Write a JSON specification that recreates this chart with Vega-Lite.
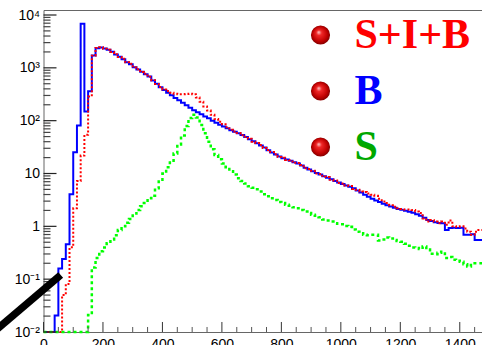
{
  "$schema": "https://vega.github.io/schema/vega-lite/v6.json",
  "width": 446,
  "height": 322,
  "autosize": {"type": "none"},
  "padding": {"left": 43.5, "top": 10, "right": 0, "bottom": 13},
  "background": "white",
  "config": {"view": {"stroke": "#666", "strokeWidth": 1}},
  "datasets": {
    "hist": [
    {"x":0,"b":0.01,"sib":0.01,"s":0.01},
    {"x":12.5,"b":0.01,"sib":0.01,"s":0.01},
    {"x":25,"b":0.01,"sib":0.01,"s":0.01},
    {"x":37.5,"b":0.0205,"sib":0.01,"s":0.01},
    {"x":50,"b":0.16,"sib":0.01,"s":0.01},
    {"x":62.5,"b":0.24,"sib":0.05,"s":0.01},
    {"x":75,"b":0.46,"sib":0.081,"s":0.01},
    {"x":87.5,"b":4.05,"sib":0.40,"s":0.01},
    {"x":100,"b":25.3,"sib":2.2,"s":0.01},
    {"x":112.5,"b":80.7,"sib":7.2,"s":0.01},
    {"x":125,"b":6800,"sib":21.8,"s":0.01},
    {"x":137.5,"b":149,"sib":54,"s":0.01},
    {"x":150,"b":361,"sib":286,"s":0.0209},
    {"x":162.5,"b":1710,"sib":1690,"s":0.166},
    {"x":175,"b":2360,"sib":2380,"s":0.251},
    {"x":187.5,"b":2430,"sib":2450,"s":0.339},
    {"x":200,"b":2320,"sib":2300,"s":0.398},
    {"x":212.5,"b":2190,"sib":2210,"s":0.479},
    {"x":225,"b":2010,"sib":1990,"s":0.562},
    {"x":237.5,"b":1790,"sib":1810,"s":0.676},
    {"x":250,"b":1615,"sib":1600,"s":0.851},
    {"x":262.5,"b":1460,"sib":1480,"s":1.0},
    {"x":275,"b":1280,"sib":1270,"s":1.175},
    {"x":287.5,"b":1175,"sib":1190,"s":1.38},
    {"x":300,"b":1030,"sib":1020,"s":1.74},
    {"x":312.5,"b":930,"sib":945,"s":2.04},
    {"x":325,"b":840,"sib":830,"s":2.40},
    {"x":337.5,"b":760,"sib":770,"s":2.75},
    {"x":350,"b":685,"sib":675,"s":3.39},
    {"x":362.5,"b":575,"sib":585,"s":3.80},
    {"x":375,"b":501,"sib":495,"s":5.25},
    {"x":387.5,"b":427,"sib":435,"s":7.08},
    {"x":400,"b":380,"sib":389,"s":10.0},
    {"x":412.5,"b":339,"sib":363,"s":13.2},
    {"x":425,"b":302,"sib":339,"s":17.4},
    {"x":437.5,"b":269,"sib":324,"s":24.0},
    {"x":450,"b":243,"sib":316,"s":35.5},
    {"x":462.5,"b":219,"sib":316,"s":52.5},
    {"x":475,"b":195,"sib":320,"s":79.4},
    {"x":487.5,"b":176,"sib":324,"s":112},
    {"x":500,"b":158,"sib":316,"s":129},
    {"x":512.5,"b":145,"sib":275,"s":115},
    {"x":525,"b":132,"sib":229,"s":83.2},
    {"x":537.5,"b":120,"sib":186,"s":57.5},
    {"x":550,"b":111,"sib":155,"s":39.8},
    {"x":562.5,"b":100,"sib":129,"s":28.8},
    {"x":575,"b":91.2,"sib":107,"s":22.4},
    {"x":587.5,"b":84.1,"sib":95.5,"s":18.6},
    {"x":600,"b":77.6,"sib":85.1,"s":15.5},
    {"x":612.5,"b":71.6,"sib":75,"s":13.2},
    {"x":625,"b":66.1,"sib":67.6,"s":11.0},
    {"x":637.5,"b":61.7,"sib":62.5,"s":9.55},
    {"x":650,"b":57.5,"sib":58.5,"s":8.13},
    {"x":662.5,"b":53.7,"sib":53.0,"s":7.24},
    {"x":675,"b":49.0,"sib":49.8,"s":6.46},
    {"x":687.5,"b":44.7,"sib":45.5,"s":5.75},
    {"x":700,"b":40.7,"sib":40.0,"s":5.37},
    {"x":712.5,"b":37.2,"sib":37.8,"s":5.01},
    {"x":725,"b":33.9,"sib":34.5,"s":4.57},
    {"x":737.5,"b":30.9,"sib":30.5,"s":4.07},
    {"x":750,"b":27.5,"sib":28.0,"s":3.72},
    {"x":762.5,"b":25.1,"sib":25.6,"s":3.39},
    {"x":775,"b":22.9,"sib":23.2,"s":3.16},
    {"x":787.5,"b":20.9,"sib":20.5,"s":2.88},
    {"x":800,"b":19.5,"sib":19.9,"s":2.75},
    {"x":812.5,"b":18.4,"sib":18.0,"s":2.57},
    {"x":825,"b":17.4,"sib":17.8,"s":2.45},
    {"x":837.5,"b":16.4,"sib":16.0,"s":2.29},
    {"x":850,"b":15.5,"sib":15.8,"s":2.19},
    {"x":862.5,"b":14.1,"sib":14.5,"s":2.04},
    {"x":875,"b":12.9,"sib":12.6,"s":1.91},
    {"x":887.5,"b":11.9,"sib":12.2,"s":1.78},
    {"x":900,"b":11.0,"sib":11.3,"s":1.66},
    {"x":912.5,"b":10.2,"sib":10.0,"s":1.58},
    {"x":925,"b":9.55,"sib":9.8,"s":1.48},
    {"x":937.5,"b":8.91,"sib":8.7,"s":1.35},
    {"x":950,"b":8.32,"sib":8.6,"s":1.29},
    {"x":962.5,"b":7.76,"sib":7.6,"s":1.23},
    {"x":975,"b":7.24,"sib":7.4,"s":1.15},
    {"x":987.5,"b":6.76,"sib":6.6,"s":1.12},
    {"x":1000,"b":6.31,"sib":6.5,"s":1.10},
    {"x":1012.5,"b":5.96,"sib":5.9,"s":1.02},
    {"x":1025,"b":5.62,"sib":5.8,"s":0.977},
    {"x":1037.5,"b":5.25,"sib":5.1,"s":0.871},
    {"x":1050,"b":4.79,"sib":4.9,"s":0.794},
    {"x":1062.5,"b":4.37,"sib":4.57,"s":0.741},
    {"x":1075,"b":3.98,"sib":4.47,"s":0.692},
    {"x":1087.5,"b":3.63,"sib":4.17,"s":0.676},
    {"x":1100,"b":3.31,"sib":3.98,"s":0.692},
    {"x":1112.5,"b":3.09,"sib":3.80,"s":0.692},
    {"x":1125,"b":2.88,"sib":3.31,"s":0.537},
    {"x":1137.5,"b":2.69,"sib":2.95,"s":0.562},
    {"x":1150,"b":2.51,"sib":2.75,"s":0.617},
    {"x":1162.5,"b":2.37,"sib":2.51,"s":0.589},
    {"x":1175,"b":2.24,"sib":2.34,"s":0.550},
    {"x":1187.5,"b":2.14,"sib":2.19,"s":0.525},
    {"x":1200,"b":2.07,"sib":2.14,"s":0.513},
    {"x":1212.5,"b":1.97,"sib":2.09,"s":0.468},
    {"x":1225,"b":1.88,"sib":2.09,"s":0.427},
    {"x":1237.5,"b":1.80,"sib":2.04,"s":0.398},
    {"x":1250,"b":1.70,"sib":1.91,"s":0.389},
    {"x":1262.5,"b":1.58,"sib":1.78,"s":0.372},
    {"x":1275,"b":1.45,"sib":1.41,"s":0.417},
    {"x":1287.5,"b":1.32,"sib":1.23,"s":0.363},
    {"x":1300,"b":1.26,"sib":1.32,"s":0.302},
    {"x":1312.5,"b":1.20,"sib":1.23,"s":0.295},
    {"x":1325,"b":1.16,"sib":1.15,"s":0.316},
    {"x":1337.5,"b":1.14,"sib":1.23,"s":0.331},
    {"x":1350,"b":0.851,"sib":1.07,"s":0.251},
    {"x":1362.5,"b":0.933,"sib":1.29,"s":0.263},
    {"x":1375,"b":0.944,"sib":1.0,"s":0.234},
    {"x":1387.5,"b":0.933,"sib":0.977,"s":0.224},
    {"x":1400,"b":0.944,"sib":1.0,"s":0.214},
    {"x":1412.5,"b":0.692,"sib":0.912,"s":0.191},
    {"x":1425,"b":0.692,"sib":0.794,"s":0.174},
    {"x":1437.5,"b":0.708,"sib":0.692,"s":0.200},
    {"x":1450,"b":0.550,"sib":0.794,"s":0.200},
    {"x":1462.5,"b":0.550,"sib":0.851,"s":0.200},
    {"x":1475,"b":0.550,"sib":0.851,"s":0.200}
    ],
    "yMajor": [{"v":0.01},{"v":0.1},{"v":1},{"v":10},{"v":100},{"v":1000},{"v":10000}],
    "yMinor": [{"v":0.02},{"v":0.03},{"v":0.04},{"v":0.05},{"v":0.06},{"v":0.07},{"v":0.08},{"v":0.09},{"v":0.2},{"v":0.3},{"v":0.4},{"v":0.5},{"v":0.6},{"v":0.7},{"v":0.8},{"v":0.9},{"v":2},{"v":3},{"v":4},{"v":5},{"v":6},{"v":7},{"v":8},{"v":9},{"v":20},{"v":30},{"v":40},{"v":50},{"v":60},{"v":70},{"v":80},{"v":90},{"v":200},{"v":300},{"v":400},{"v":500},{"v":600},{"v":700},{"v":800},{"v":900},{"v":2000},{"v":3000},{"v":4000},{"v":5000},{"v":6000},{"v":7000},{"v":8000},{"v":9000}],
    "xMajor": [{"t":0},{"t":200},{"t":400},{"t":600},{"t":800},{"t":1000},{"t":1200},{"t":1400}],
    "xMinor": [{"t":50},{"t":100},{"t":150},{"t":250},{"t":300},{"t":350},{"t":450},{"t":500},{"t":550},{"t":650},{"t":700},{"t":750},{"t":850},{"t":900},{"t":950},{"t":1050},{"t":1100},{"t":1150},{"t":1250},{"t":1300},{"t":1350},{"t":1450}],
    "bar": [{"x": -180, "y": 0.0087}, {"x": 57.8, "y": 0.12}]
  },
  "layer": [
    {
      "data": {"name": "hist"},
      "mark": {"type": "line", "interpolate": "step-after", "strokeWidth": 2},
      "encoding": {
        "x": {
          "field": "x", "type": "quantitative",
          "scale": {"domain": [0, 1500], "nice": false, "zero": false},
          "axis": {
            "title": null, "grid": false, "domain": false, "ticks": false,
            "values": [0,200,400,600,800,1000,1200,1400],
            "format": "d",
            "labelPadding": 5,
            "labelOverlap": false, "labelFlush": false,
            "labelFont": "Liberation Sans", "labelFontSize": 14, "labelColor": "#000"
          }
        },
        "y": {"field": "b", "type": "quantitative",
          "scale": {"type": "log", "domain": [0.01, 12435], "nice": false},
          "axis": {
            "title": null, "grid": false, "domain": false, "ticks": false,
            "values": [0.01,0.1,1,10,100,1000,10000],
            "labelExpr": "datum.value == 10000 ? '10⁴' : datum.value == 1000 ? '10³' : datum.value == 100 ? '10²' : datum.value == 10 ? '10' : datum.value == 1 ? '1' : datum.value == 0.1 ? '10⁻¹' : '10⁻²'",
            "labelPadding": 4,
            "labelOverlap": false, "labelFlush": false,
            "labelFont": "Liberation Sans", "labelFontSize": 14, "labelColor": "#000"
          }
        },
        "color": {"datum": "B", "type": "nominal",
          "scale": {"domain": ["S+I+B", "B", "S"], "range": ["#ff0000", "#0000ff", "#00ff00"]},
          "legend": {
            "title": null, "orient": "none", "legendX": 256, "legendY": 4, "padding": 0,
            "symbolType": "circle", "symbolSize": 366,
            "labelFont": "Liberation Serif", "labelFontWeight": "bold", "labelFontSize": 42,
            "labelOffset": 13, "rowPadding": 14, "labelLimit": 0,
            "encode": {
              "symbols": {"update": {
                "fill": {"value": {"gradient": "radial", "x1": 0.4, "y1": 0.35, "r1": 0, "x2": 0.5, "y2": 0.5, "r2": 0.55,
                  "stops": [{"offset": 0, "color": "#ffd0d0"}, {"offset": 0.25, "color": "#f02828"}, {"offset": 0.7, "color": "#c00000"}, {"offset": 1, "color": "#700000"}]}},
                "stroke": {"value": "transparent"}, "strokeWidth": {"value": 0}, "opacity": {"value": 1}
              }},
              "labels": {"update": {
                "fill": {"signal": "datum.label === 'B' ? '#0000ff' : datum.label === 'S' ? '#00a800' : '#ff0000'"}
              }}
            }
          }
        }
      }
    },
    {
      "data": {"name": "hist"},
      "mark": {"type": "line", "interpolate": "step-after", "strokeWidth": 2, "strokeDash": [2, 2]},
      "encoding": {
        "x": {"field": "x", "type": "quantitative"},
        "y": {"field": "sib", "type": "quantitative"},
        "color": {"datum": "S+I+B", "type": "nominal"}
      }
    },
    {
      "data": {"name": "hist"},
      "mark": {"type": "line", "interpolate": "step-after", "strokeWidth": 2.5, "strokeDash": [3, 3]},
      "encoding": {
        "x": {"field": "x", "type": "quantitative"},
        "y": {"field": "s", "type": "quantitative"},
        "color": {"datum": "S", "type": "nominal"}
      }
    },
    {
      "data": {"name": "yMajor"},
      "mark": {"type": "tick", "orient": "horizontal", "size": 13, "thickness": 1.2, "color": "#222", "opacity": 1, "clip": false},
      "encoding": {"x": {"datum": 21.85, "type": "quantitative"}, "y": {"field": "v", "type": "quantitative"}}
    },
    {
      "data": {"name": "yMinor"},
      "mark": {"type": "tick", "orient": "horizontal", "size": 7, "thickness": 1.2, "color": "#444", "opacity": 1, "clip": false},
      "encoding": {"x": {"datum": 11.75, "type": "quantitative"}, "y": {"field": "v", "type": "quantitative"}}
    },
    {
      "data": {"name": "xMajor"},
      "mark": {"type": "rule", "color": "#333", "strokeWidth": 1, "clip": false},
      "encoding": {"y": {"datum": 0.01, "type": "quantitative"}, "y2": {"datum": 0.01547}, "x": {"field": "t", "type": "quantitative"}}
    },
    {
      "data": {"name": "xMinor"},
      "mark": {"type": "rule", "color": "#555", "strokeWidth": 1, "clip": false},
      "encoding": {"y": {"datum": 0.01, "type": "quantitative"}, "y2": {"datum": 0.01244}, "x": {"field": "t", "type": "quantitative"}}
    },
    {
      "data": {"name": "bar"},
      "mark": {"type": "line", "color": "#000000", "strokeWidth": 7.5, "strokeCap": "butt", "clip": false},
      "encoding": {
        "x": {"field": "x", "type": "quantitative"},
        "y": {"field": "y", "type": "quantitative"}
      }
    }
  ]
}
